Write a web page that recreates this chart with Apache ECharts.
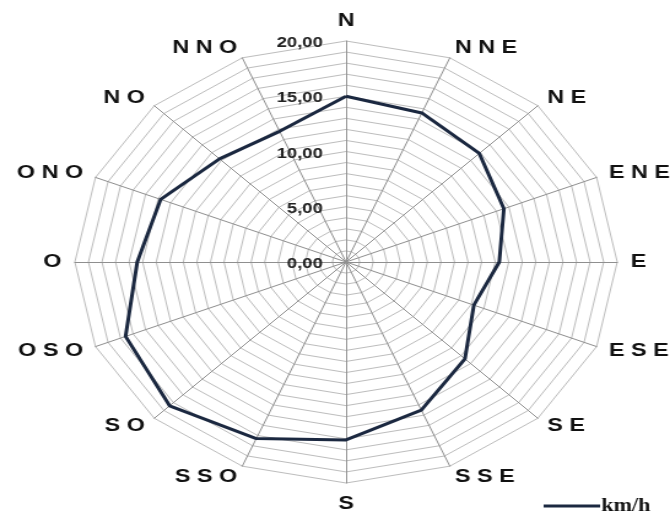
<!DOCTYPE html>
<html>
<head>
<meta charset="utf-8">
<script src="https://cdn.jsdelivr.net/npm/echarts@6/dist/echarts.min.js"></script>
<style>
  html, body { margin: 0; padding: 0; background: #fff; overflow: hidden; }
  /* the wind rose is drawn circular and then widened to fill the page */
  #chart { width: 546px; height: 521px; transform: scaleX(1.2271); transform-origin: 0 0; }
</style>
</head>
<body>
<div id="chart"></div>
<script>
// compass sectors, clockwise from north
const directions = ['N', 'NNE', 'NE', 'ENE', 'E', 'ESE', 'SE', 'SSE', 'S', 'SSO', 'SO', 'OSO', 'O', 'ONO', 'NO', 'NNO'];
// mean wind speed per sector, km/h
const speeds = [15.0, 14.6, 13.9, 12.6, 11.3, 10.2, 12.4, 14.5, 16.1, 17.3, 18.4, 17.6, 15.4, 14.8, 13.2, 12.8];
const seriesName = 'km/h';
const scaleMax = 20;
const tickStep = 5;

// ECharts lays radar indicators out counter-clockwise; keep N first and walk the rest backwards
const order = [0].concat(directions.map((_, i) => i).slice(1).reverse());
const radarNames = order.map(i => directions[i]);
const radarValues = order.map(i => speeds[i]);

const spaced = s => s.split('').join(' ');

const center = [282, 262];
const radius = 221;

const chart = echarts.init(document.getElementById('chart'), null, { renderer: 'canvas' });
chart.setOption({
  animation: false,
  backgroundColor: '#fff',
  radar: {
    center: center,
    radius: radius,
    startAngle: 90,
    shape: 'polygon',
    splitNumber: scaleMax,
    indicator: radarNames.map(d => ({ name: d, min: 0, max: scaleMax })),
    axisName: {
      formatter: v => spaced(v),
      color: '#111',
      fontFamily: 'Liberation Sans',
      fontWeight: 'bold',
      fontSize: 19
    },
    nameGap: 11,
    splitArea: { show: false },
    splitLine: { lineStyle: { color: '#bdbdbd', width: 1 } },
    axisLine: { lineStyle: { color: '#8f8f8f', width: 1 } },
    axisTick: { show: false },
    axisLabel: { show: false }
  },
  // a label-only polar radius axis supplies the scale values beside the north spoke
  polar: { center: [center[0] - 15, center[1] + 2], radius: radius },
  angleAxis: { type: 'value', startAngle: 90, min: 0, max: 360, show: false },
  radiusAxis: {
    min: 0,
    max: scaleMax,
    interval: tickStep,
    axisLine: { show: false },
    axisTick: { show: false },
    splitLine: { show: false },
    axisLabel: {
      formatter: v => v.toFixed(2).replace('.', ','),
      color: '#222',
      fontFamily: 'Liberation Sans',
      fontWeight: 'bold',
      fontSize: 15,
      margin: 4
    }
  },
  legend: {
    data: [seriesName],
    left: 438,
    top: 492,
    icon: 'rect',
    symbolKeepAspect: false,
    itemWidth: 46,
    itemHeight: 3,
    itemGap: 2,
    textStyle: { fontFamily: 'Liberation Serif', fontWeight: 'bold', fontSize: 18, color: '#111', padding: [0, 0, 0, -4] }
  },
  series: [{
    type: 'radar',
    name: seriesName,
    symbol: 'none',
    lineStyle: { color: '#1b2840', width: 3 },
    itemStyle: { color: '#1b2840' },
    data: [{ value: radarValues, name: seriesName }]
  }]
});
</script>
</body>
</html>
